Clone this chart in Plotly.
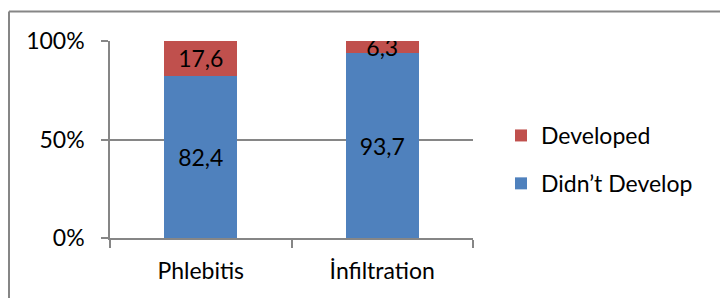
import plotly.graph_objects as go

categories = ["Phlebitis", "İnfiltration"]
didnt_develop = [82.4, 93.7]
developed = [17.6, 6.3]
y_ticks = [0, 50, 100]
y_tick_labels = ["0%", "50%", "100%"]

FONT = "Lato"
FS = 23
GRAY = "#868686"

fig = go.Figure()
fig.add_trace(go.Bar(
    x=categories, y=didnt_develop, name="Didn’t Develop",
    marker=dict(color="#4F81BD", line=dict(width=0)),
    texttemplate="%{y:.1f}", textposition="inside", insidetextanchor="middle",
    textangle=0, textfont=dict(size=FS, color="black", family=FONT),
    width=0.4, legendgroup="b", legendrank=2,
))
fig.add_trace(go.Bar(
    x=categories, y=developed, name="Developed",
    marker=dict(color="#C0504D", line=dict(width=0)),
    texttemplate="%{y:.1f}", textposition="inside", insidetextanchor="middle",
    textangle=0, textfont=dict(size=FS, color="black", family=FONT),
    width=0.4, legendgroup="a", legendrank=1,
))

pl, pr, pt, pb = 110, 473, 41, 238
W, H = 720, 298

def px_x(x):
    return (x - pl) / (pr - pl)

def px_y(y):
    return (pb - y) / (pb - pt)

fig.add_shape(type="line", xref="paper", yref="paper",
              x0=px_x(9), x1=px_x(9), y0=px_y(320), y1=px_y(11.5),
              line=dict(color=GRAY, width=2))
fig.add_shape(type="line", xref="paper", yref="paper",
              x0=px_x(9), x1=px_x(740), y0=px_y(11.5), y1=px_y(11.5),
              line=dict(color=GRAY, width=2))

fig.update_layout(
    width=W, height=H,
    margin=dict(l=pl, r=W - pr, t=pt, b=H - pb),
    barmode="stack",
    separators=",.",
    plot_bgcolor="white", paper_bgcolor="white",
    font=dict(family=FONT, size=FS, color="black"),
    uniformtext=dict(minsize=FS, mode="show"),
    showlegend=True,
    legend=dict(x=px_x(501), y=px_y(114), xanchor="left", yanchor="top",
                traceorder="grouped", tracegroupgap=15,
                font=dict(size=FS, family=FONT), itemwidth=30,
                bgcolor="rgba(0,0,0,0)"),
    xaxis=dict(type="category", range=[-0.5, 1.5], showline=True, linecolor=GRAY,
               linewidth=1.5, ticks="outside", tickson="boundaries", ticklen=8,
               tickcolor=GRAY, tickwidth=1.5, showgrid=False, ticklabelstandoff=12,
               tickfont=dict(size=FS, family=FONT)),
    yaxis=dict(range=[0, 100], tickmode="array", tickvals=y_ticks, ticktext=y_tick_labels,
               showline=True,
               linecolor=GRAY, linewidth=1.5, ticks="outside", ticklen=7,
               tickcolor=GRAY, tickwidth=1.5, showgrid=True, gridcolor=GRAY,
               gridwidth=1.5, zeroline=False, ticklabelstandoff=12,
               tickfont=dict(size=FS, family=FONT)),
)

fig.write_html("out.html", config={"displayModeBar": False},
               post_script="document.body.style.margin='0';")
